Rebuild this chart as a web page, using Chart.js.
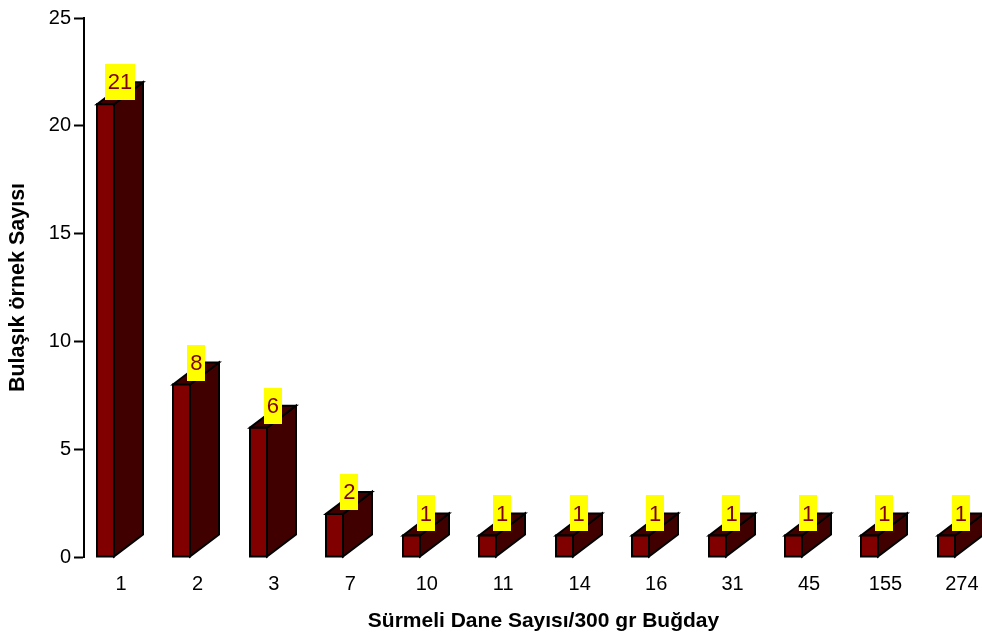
<!DOCTYPE html>
<html>
<head>
<meta charset="utf-8">
<script src="https://cdn.jsdelivr.net/npm/chart.js@4/dist/chart.umd.min.js"></script>
<style>
  html, body { margin: 0; padding: 0; background: #ffffff; }
  #wrap { width: 982px; height: 635px; }
</style>
</head>
<body>
<div id="wrap"><canvas id="c" width="982" height="635"></canvas></div>
<script>
// Number of contaminated samples per count of Sürmeli grains in 300 g wheat
const categories = ['1', '2', '3', '7', '10', '11', '14', '16', '31', '45', '155', '274'];
const sampleCounts = [21, 8, 6, 2, 1, 1, 1, 1, 1, 1, 1, 1];
const yTicks = [0, 5, 10, 15, 20, 25];
const xTitle = 'Sürmeli Dane Sayısı/300 gr Buğday';
const yTitle = 'Bulaşık örnek Sayısı';

const FONT = "'Liberation Sans', Arial, Helvetica, sans-serif";

// 3D box geometry (pixels)
const FACE_W = 17;      // front face width
const DEPTH_X = 29;     // receding depth, horizontal
const DEPTH_Y = 22;     // receding depth, vertical
const FRONT_SHIFT = 24; // front face left edge relative to category centre

function polygon(ctx, pts, fill) {
  ctx.beginPath();
  ctx.moveTo(pts[0][0], pts[0][1]);
  for (let i = 1; i < pts.length; i++) ctx.lineTo(pts[i][0], pts[i][1]);
  ctx.closePath();
  ctx.fillStyle = fill;
  ctx.fill();
  ctx.stroke();
}

const boxes3d = {
  id: 'boxes3d',
  afterDatasetsDraw(chart) {
    const ctx = chart.ctx;
    const meta = chart.getDatasetMeta(0);
    ctx.save();
    ctx.lineWidth = 2;
    ctx.strokeStyle = '#000000';
    ctx.lineJoin = 'miter';
    meta.data.forEach((el) => {
      const { x, y, base } = el.getProps(['x', 'y', 'base'], true);
      const l = Math.round(x - FRONT_SHIFT);
      const r = l + FACE_W;
      // side face
      polygon(ctx, [[r, y], [r + DEPTH_X, y - DEPTH_Y], [r + DEPTH_X, base - DEPTH_Y], [r, base]], '#400000');
      // top face
      polygon(ctx, [[l, y], [l + DEPTH_X, y - DEPTH_Y], [r + DEPTH_X, y - DEPTH_Y], [r, y]], '#400000');
      // front face
      polygon(ctx, [[l, y], [r, y], [r, base], [l, base]], '#800000');
    });

    // value labels in yellow boxes
    ctx.font = '22px ' + FONT;
    ctx.textAlign = 'center';
    ctx.textBaseline = 'middle';
    meta.data.forEach((el, i) => {
      const { x, y } = el.getProps(['x', 'y'], true);
      const txt = String(sampleCounts[i]);
      const w = ctx.measureText(txt).width + 6;
      const h = 36;
      const cx = x - 1;
      const bottom = y - 4;
      ctx.fillStyle = '#ffff00';
      ctx.fillRect(Math.round(cx - w / 2), Math.round(bottom - h), Math.round(w), h);
      ctx.fillStyle = '#800000';
      ctx.fillText(txt, cx, bottom - h / 2 + 1);
    });
    ctx.restore();
  }
};

// x-axis title, centred a little right of the plot centre (over the box depth)
const xAxisTitle = {
  id: 'xAxisTitle',
  afterDraw(chart) {
    const ctx = chart.ctx;
    const a = chart.chartArea;
    ctx.save();
    ctx.font = 'bold 21px ' + FONT;
    ctx.fillStyle = '#000000';
    ctx.textAlign = 'center';
    ctx.textBaseline = 'middle';
    ctx.fillText(xTitle, (a.left + a.right) / 2 + 14, chart.height - 14);
    ctx.restore();
  }
};

Chart.defaults.font.family = FONT;
Chart.defaults.color = '#000000';

new Chart(document.getElementById('c'), {
  type: 'bar',
  data: {
    datasets: [{
      data: sampleCounts.map((v, i) => ({ x: i, y: v })),
      backgroundColor: 'rgba(0,0,0,0)',
      borderWidth: 0,
      barThickness: 46
    }]
  },
  options: {
    responsive: false,
    animation: false,
    layout: { padding: { top: 18, right: 7, left: 0, bottom: 0 } },
    plugins: {
      legend: { display: false },
      tooltip: { enabled: false }
    },
    scales: {
      x: {
        type: 'linear',
        offset: false,
        min: -0.484,
        max: 11.171,
        grid: { display: false, drawTicks: false, offset: false },
        border: { display: false },
        afterBuildTicks(scale) {
          scale.ticks = categories.map((_, i) => ({ value: i }));
        },
        afterFit(scale) {
          scale.height = 78;
          scale.paddingLeft = 0;
          scale.paddingRight = 0;
        },
        ticks: {
          autoSkip: false,
          maxRotation: 0,
          padding: 15,
          font: { size: 20 },
          color: '#000000',
          callback: (v) => categories[v]
        },
        title: { display: false }
      },
      y: {
        min: 0,
        max: 25,
        afterBuildTicks(scale) {
          scale.ticks = yTicks.map((v) => ({ value: v }));
        },
        afterFit(scale) {
          scale.width = 84;
          scale.paddingTop = 0;
          scale.paddingBottom = 0;
        },
        grid: {
          drawOnChartArea: false,
          drawTicks: true,
          tickLength: 10,
          tickWidth: 2,
          tickColor: '#000000'
        },
        border: { display: true, color: '#000000', width: 2 },
        ticks: {
          padding: 3,
          font: { size: 20 },
          color: '#000000'
        },
        title: {
          display: true,
          text: yTitle,
          font: { size: 21.5, weight: 'bold' },
          color: '#000000',
          padding: { top: 5, bottom: 4 }
        }
      }
    }
  },
  plugins: [boxes3d, xAxisTitle]
});
</script>
</body>
</html>
